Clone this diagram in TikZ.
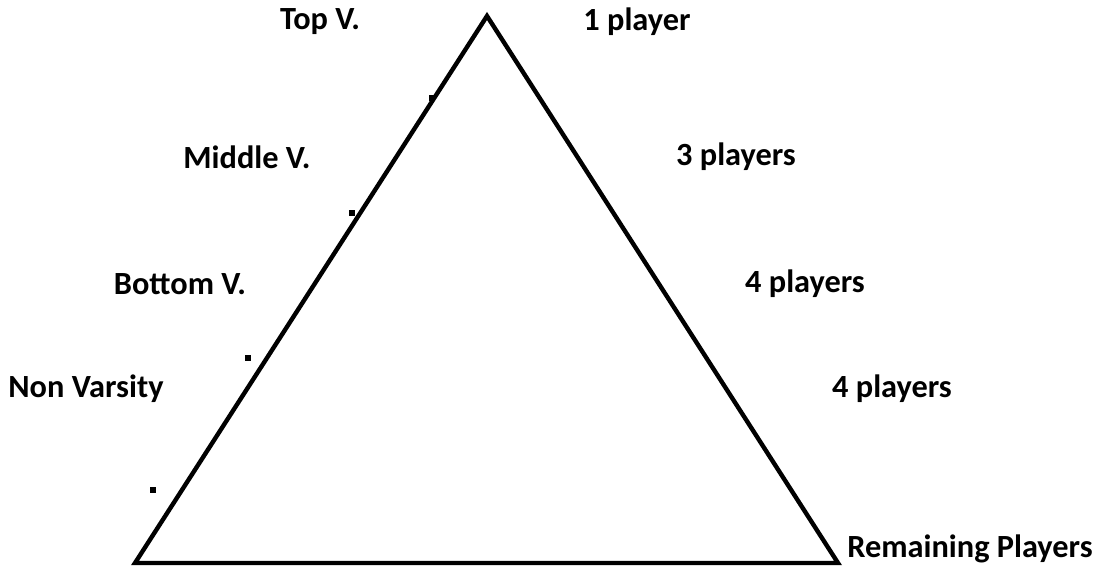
\documentclass[tikz,border=0pt]{standalone}
\usepackage{fontspec}
\setmainfont{Carlito}
\usepackage{xcolor}
\usepackage{tikz}
\usetikzlibrary{calc}

\begin{document}
\begin{tikzpicture}[x=0.025cm,y=-0.025cm,
    lbl/.style={font=\bfseries\fontsize{23}{27}\selectfont,inner sep=0pt,anchor=center},
    tick/.style={fill=black,minimum size=0.13cm,inner sep=0pt}]
  \useasboundingbox (0,0) rectangle (1099,566);
  \coordinate (top) at (487,16);
  \coordinate (bl) at (135,563);
  \coordinate (br) at (838,563);
  \draw[line width=0.11cm,line join=miter] (top) -- (br) -- (bl) -- cycle;
  % levels, left side
  \node[lbl] (topv) at (320,22) {Top V.};
  \node[lbl] (midv) at (247,157) {Middle V.};
  \node[lbl] (botv) at (180,284) {Bottom V.};
  \node[lbl] (nonv) at (86,389) {Non Varsity};
  % counts, right side
  \node[lbl] (n1) at (637,22) {1 player};
  \node[lbl] (n3) at (736,157) {3 players};
  \node[lbl] (n4a) at (805,284) {4 players};
  \node[lbl] (n4b) at (892,389) {4 players};
  \node[lbl] (rest) at (970,549) {Remaining Players};
  % small marks
  \node[tick] (m1) at (432,98) {};
  \node[tick] (m2) at (352,213) {};
  \node[tick] (m3) at (248,358) {};
  \node[tick] (m4) at (153,490) {};
\end{tikzpicture}
\end{document}
